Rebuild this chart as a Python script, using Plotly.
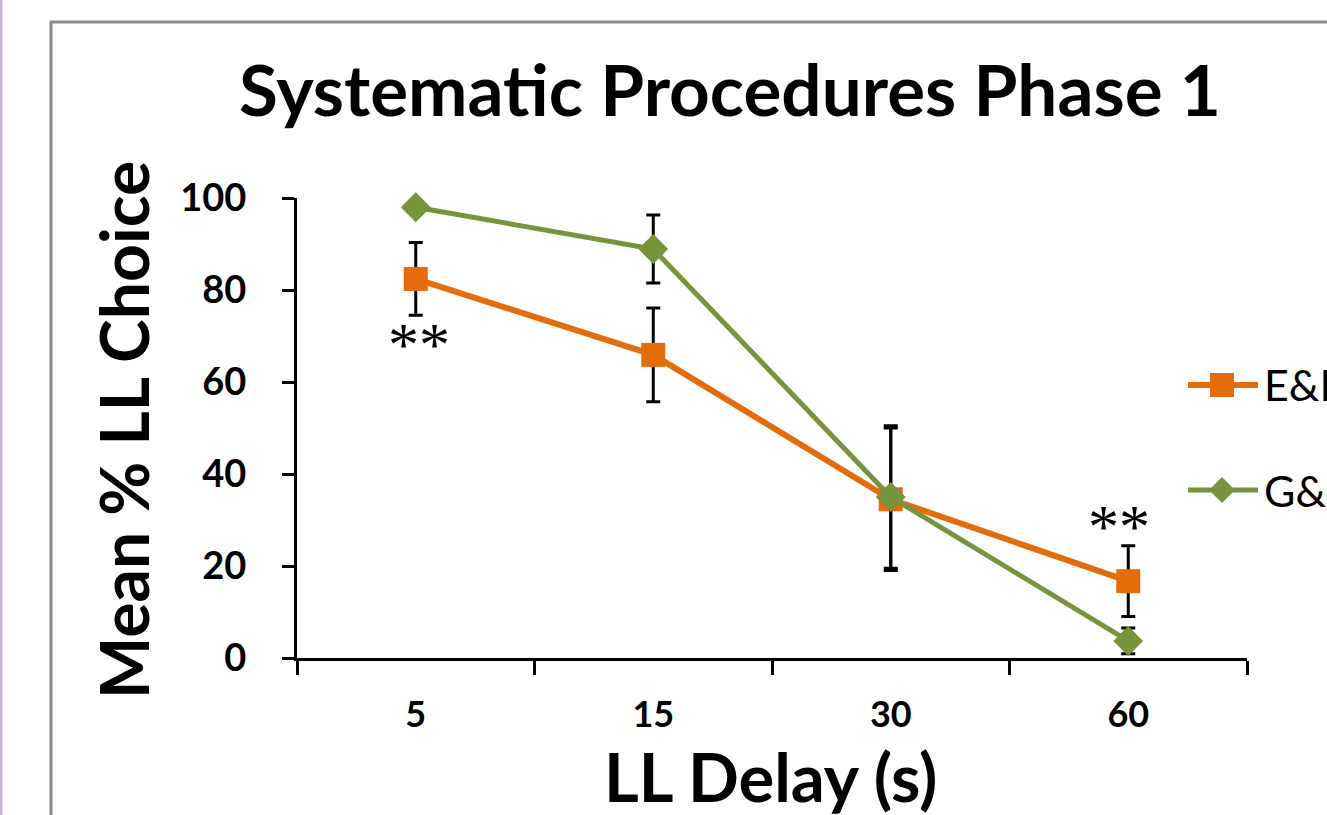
import plotly.graph_objects as go

# ---- data ----
delays = ["5", "15", "30", "60"]
ee_mean = [82.4, 65.9, 34.5, 16.7]
ee_err = [7.9, 10.2, 15.5, 7.7]
gl_mean = [98.0, 88.9, 35.0, 3.7]
gl_err = [0.0, 7.4, 15.5, 2.8]
series_names = ["E&D", "G&L"]
y_ticks = [0, 20, 40, 60, 80, 100]
sig_delays = ["5", "60"]
sig_y = [68.2, 28.6]
sig_shift = [3, -9]

ORANGE = "#E46C0A"
GREEN = "#77933C"
W, H = 1327, 815
FONT = "Lato"


def px(x):
    return x / W


def py(y):
    return 1 - y / H


fig = go.Figure()
fig.add_trace(go.Scatter(
    x=delays, y=ee_mean, mode="lines+markers", name=series_names[0],
    line=dict(color=ORANGE, width=6),
    marker=dict(symbol="square", size=24, color=ORANGE),
    error_y=dict(type="data", array=ee_err, visible=True, color="black", thickness=3, width=7),
    showlegend=False, cliponaxis=False,
))
fig.add_trace(go.Scatter(
    x=delays, y=gl_mean, mode="lines+markers", name=series_names[1],
    line=dict(color=GREEN, width=5),
    marker=dict(symbol="diamond", size=23, color=GREEN),
    error_y=dict(type="data", array=gl_err, visible=True, color="black", thickness=3, width=7),
    showlegend=False, cliponaxis=False,
))

fig.update_layout(
    width=W, height=H, autosize=False,
    margin=dict(l=0, r=0, t=0, b=0, pad=0, autoexpand=False),
    paper_bgcolor="white", plot_bgcolor="white",
    xaxis=dict(
        domain=[px(297), px(1247)], type="category", range=[-0.5, 3.5],
        showline=True, linewidth=3, linecolor="black",
        ticks="outside", tickson="boundaries", ticklen=14, tickwidth=3, tickcolor="black",
        showgrid=False, zeroline=False, automargin=False,
        tickfont=dict(family=FONT, size=36, color="black", weight="bold"),
        ticklabelstandoff=23,
    ),
    yaxis=dict(
        domain=[py(658), py(198)], range=[0, 100],
        tickvals=y_ticks,
        showline=True, linewidth=3, linecolor="black",
        ticks="outside", ticklen=12, tickwidth=3, tickcolor="black",
        showgrid=False, zeroline=False, automargin=False,
        tickfont=dict(family=FONT, size=38, color="black", weight="bold"),
        ticklabelstandoff=28,
    ),
)

annotations = [
    dict(text="Systematic Procedures Phase 1", x=px(730), y=py(88), xref="paper", yref="paper",
         xanchor="center", yanchor="middle", showarrow=False,
         font=dict(family=FONT, size=71, color="black", weight="bold")),
    dict(text="Mean % LL Choice", x=px(124), y=py(430), xref="paper", yref="paper",
         xanchor="center", yanchor="middle", textangle=-90, showarrow=False,
         font=dict(family=FONT, size=66, color="black", weight="bold")),
    dict(text="LL Delay (s)", x=px(770), y=py(776), xref="paper", yref="paper",
         xanchor="center", yanchor="middle", showarrow=False,
         font=dict(family=FONT, size=67, color="black", weight="bold")),
]
for d, yy, sh in zip(sig_delays, sig_y, sig_shift):
    annotations.append(dict(text="**", x=delays.index(d), y=yy, xref="x", yref="y",
                            xanchor="center", yanchor="middle", showarrow=False, xshift=sh,
                            font=dict(family="Liberation Serif", size=62, color="black")))

shapes = [
    dict(type="rect", xref="paper", yref="paper", x0=0, x1=px(2.5), y0=-0.01, y1=1.01,
         fillcolor="#C4AEDD", line=dict(width=0), layer="below"),
    dict(type="rect", xref="paper", yref="paper", x0=px(51), x1=1.05, y0=-0.05, y1=py(22),
         fillcolor="rgba(0,0,0,0)", line=dict(color="#8C8C8C", width=3), layer="below"),
]
legend_rows = [(385, ORANGE, "square", 6), (490, GREEN, "diamond", 5)]
for (yrow, col, sym, lw), name in zip(legend_rows, series_names):
    shapes.append(dict(type="line", xref="paper", yref="paper", x0=px(1188), x1=px(1258),
                       y0=py(yrow), y1=py(yrow), line=dict(color=col, width=lw)))
    cx = 1222
    if sym == "square":
        shapes.append(dict(type="rect", xref="paper", yref="paper", x0=px(cx - 12), x1=px(cx + 12),
                           y0=py(yrow + 12), y1=py(yrow - 12), fillcolor=col, line=dict(width=0)))
    else:
        path = (f"M {px(cx - 13)},{py(yrow)} L {px(cx)},{py(yrow - 13)} "
                f"L {px(cx + 13)},{py(yrow)} L {px(cx)},{py(yrow + 13)} Z")
        shapes.append(dict(type="path", xref="paper", yref="paper", path=path,
                           fillcolor=col, line=dict(width=0)))
    annotations.append(dict(text=name, x=px(1262), y=py(yrow), xref="paper", yref="paper",
                            xanchor="left", yanchor="middle", showarrow=False,
                            font=dict(family=FONT, size=43, color="black")))

fig.update_layout(annotations=annotations, shapes=shapes)

post = """
document.body.style.margin='0';
document.body.style.overflow='hidden';
"""
fig.write_html("out.html", config={"displayModeBar": False}, post_script=post)
